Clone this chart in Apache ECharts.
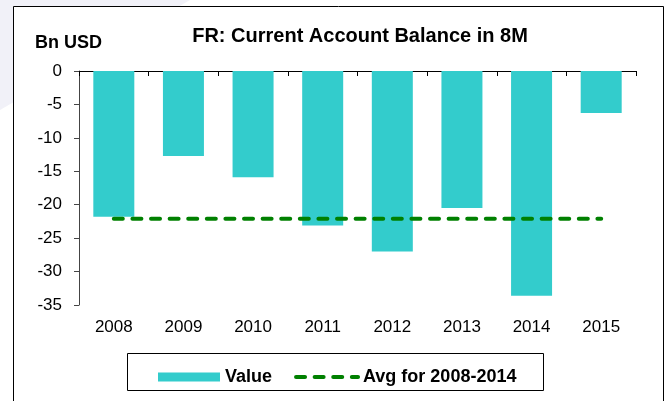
<!DOCTYPE html>
<html>
<head>
<meta charset="utf-8">
<script src="https://cdn.jsdelivr.net/npm/echarts@6/dist/echarts.min.js"></script>
<style>
  html, body { margin: 0; padding: 0; background: #fff; }
  #chart { width: 669px; height: 401px; }
</style>
</head>
<body>
<div id="chart"></div>
<script>
// 数据
var years = ['2008', '2009', '2010', '2011', '2012', '2013', '2014', '2015'];
var values = [-21.8, -12.7, -15.9, -23.1, -27.0, -20.5, -33.6, -6.3];
var avgValues = [-22.1, -22.1, -22.1, -22.1, -22.1, -22.1, -22.1, -22.1];
var yTicks = [0, -5, -10, -15, -20, -25, -30, -35];

(function(){

var chart = echarts.init(document.getElementById("chart"));

var font = 'Arial, "Liberation Sans", sans-serif';
var dash = { color: '#008000', width: 4, type: [9, 9.6], cap: 'round' };

option = {
    animation: false,
    backgroundColor: '#fff',
    title: {
        text: 'FR: Current Account Balance in 8M',
        left: 355,
        textAlign: 'center',
        top: 21,
        textStyle: { fontFamily: font, fontSize: 20, fontWeight: 'bold', color: '#000' }
    },
    graphic: [
        {   // 左上角浅紫色装饰
            type: 'polygon',
            z: -10,
            shape: { points: [[0, 0], [190, 0], [0, 110]] },
            style: { fill: '#f1f1f8' }
        },
        {   // 外框
            type: 'rect',
            z: -5,
            shape: { x: 13.5, y: 6.5, width: 650, height: 420 },
            style: { fill: '#fff', stroke: '#000', lineWidth: 1 }
        },
        {
            type: 'text',
            left: 35,
            top: 34,
            style: { text: 'Bn USD', fontFamily: font, fontSize: 18, fontWeight: 'bold', fill: '#000' }
        },
        {   // 图例边框
            type: 'rect',
            z: 1,
            shape: { x: 127.5, y: 353.5, width: 416, height: 37 },
            style: { fill: '#fff', stroke: '#000', lineWidth: 1 }
        }
    ],
    legend: {
        data: [
            { name: 'Value', icon: 'rect' },
            { name: 'Avg for 2008-2014', itemStyle: { opacity: 0 }, lineStyle: dash }
        ],
        left: 153,
        top: 363,
        z: 5,
        itemWidth: 62,
        itemHeight: 9,
        itemGap: 22,
        textStyle: { fontFamily: font, fontSize: 18, fontWeight: 'bold', color: '#000' }
    },
    grid: {
        left: 79,
        right: 33,
        top: 71,
        bottom: 96
    },
    xAxis: [
        {
            type: 'category',
            data: years,
            position: 'bottom',
            axisLine: { show: false },
            axisTick: { show: false },
            axisLabel: { fontFamily: font, fontSize: 17, color: '#000', margin: 14 }
        },
        {
            type: 'category',
            data: years,
            position: 'top',
            axisLine: { show: true, lineStyle: { color: '#000', width: 1 } },
            axisTick: { show: true, inside: true, length: 5, lineStyle: { color: '#000' } },
            axisLabel: { show: false }
        }
    ],
    yAxis: {
        type: 'value',
        min: -35,
        max: 0,
        interval: 5,
        axisLine: { show: true, lineStyle: { color: '#444' } },
        axisTick: { show: true, length: 5, lineStyle: { color: '#444' } },
        splitLine: { show: false },
        axisLabel: {
            fontFamily: font, fontSize: 17, color: '#000', margin: 17,
            formatter: function (v) { return yTicks.indexOf(v) >= 0 ? String(v) : ''; }
        }
    },
    series: [
        {
            name: 'Value',
            type: 'bar',
            xAxisIndex: 0,
            barWidth: 41,
            itemStyle: { color: '#33CCCC' },
            data: values
        },
        {
            name: 'Avg for 2008-2014',
            type: 'line',
            xAxisIndex: 0,
            symbol: 'none',
            z: 3,
            itemStyle: { color: '#008000' },
            lineStyle: dash,
            data: avgValues
        }
    ]
};

chart.setOption(option);
})();
</script>
</body>
</html>
